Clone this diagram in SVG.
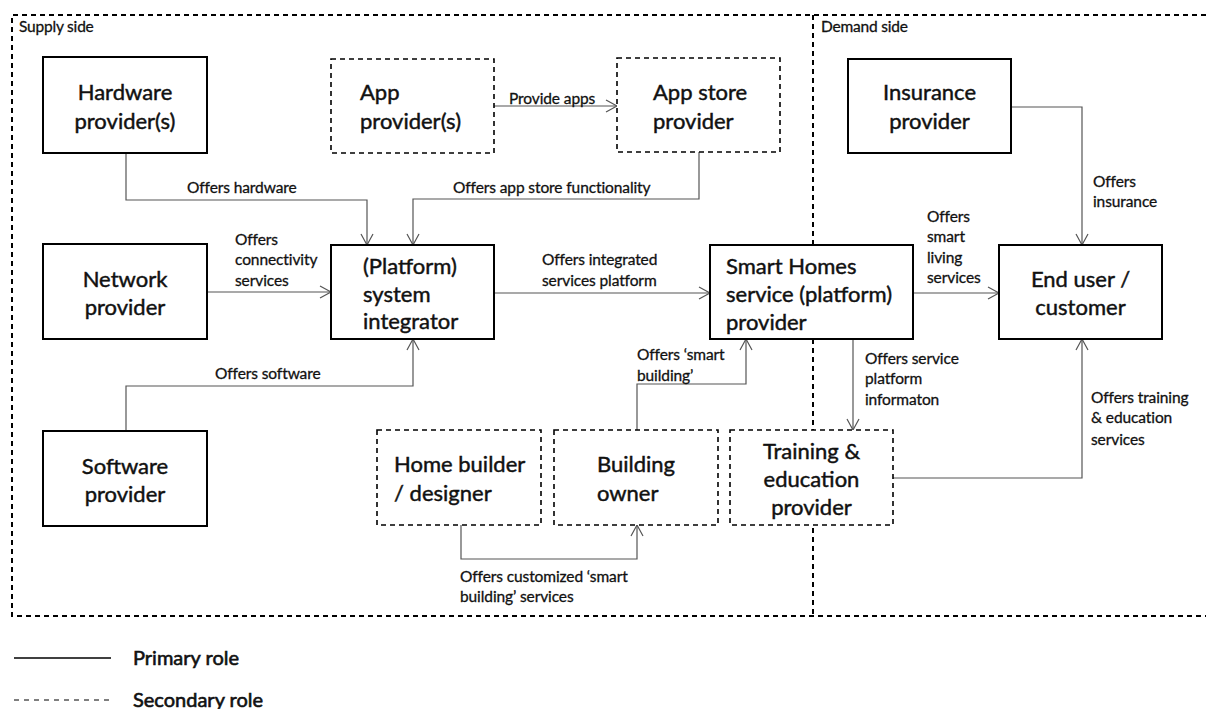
<svg xmlns="http://www.w3.org/2000/svg" width="1206" height="709" viewBox="0 0 1206 709">
  <defs>
    <marker id="arrow" markerUnits="userSpaceOnUse" markerWidth="14" markerHeight="14" refX="11" refY="6" orient="auto" overflow="visible">
      <path d="M0,0 L11,6 L0,12" fill="none" stroke="#555" stroke-width="1.2"/>
    </marker>
    <style>
      .zone { fill: none; stroke: #000; stroke-width: 2; stroke-dasharray: 5 4; }
      .box { fill: #fff; stroke: #000; stroke-width: 2; }
      .box.secondary { stroke-width: 1.6; stroke-dasharray: 5 4; }
      .edge { fill: none; stroke: #555; stroke-width: 1.2; marker-end: url(#arrow); }
      text { font-family: Lato, "Liberation Sans", sans-serif; fill: #111; stroke: #111; }
      .node { font-size: 22px; stroke-width: 0.45; }
      .node.c { text-anchor: middle; }
      .lbl { font-size: 15.5px; stroke-width: 0.3; letter-spacing: -0.1px; }
      .side { font-size: 15.5px; stroke-width: 0.3; letter-spacing: -0.2px; }
      .legend { font-size: 20px; stroke-width: 0.6; }
    </style>
  </defs>

  <!-- supply / demand zones -->
  <g id="zones">
    <path class="zone" d="M1206,15 H12 V616 H1206"/>
    <path class="zone" d="M813,15 V616"/>
    <text class="side" x="19" y="32">Supply side</text>
    <text class="side" x="821" y="32">Demand side</text>
  </g>

  <!-- connectors -->
  <g id="connectors">
    <path class="edge" d="M126,153 V200 H367 V245"/>
    <path class="edge" d="M699,152 V199 H413 V245"/>
    <path class="edge" d="M207,292 H331"/>
    <path class="edge" d="M126,431 V386 H413 V339"/>
    <path class="edge" d="M494,106 H617"/>
    <path class="edge" d="M494,293 H710"/>
    <path class="edge" d="M913,293 H999"/>
    <path class="edge" d="M1011,107 H1082 V245"/>
    <path class="edge" d="M893,478 H1082 V339"/>
    <path class="edge" d="M853,339 V430"/>
    <path class="edge" d="M637,430 V384 H746 V339"/>
    <path class="edge" d="M461,525 V559 H637 V525"/>

    <text class="lbl" x="509" y="104">Provide apps</text>
    <text class="lbl" x="187" y="193">Offers hardware</text>
    <text class="lbl" x="453" y="193">Offers app store functionality</text>
    <text class="lbl" x="235" y="245">Offers</text>
    <text class="lbl" x="235" y="265">connectivity</text>
    <text class="lbl" x="235" y="286">services</text>
    <text class="lbl" x="215" y="379">Offers software</text>
    <text class="lbl" x="542" y="265">Offers integrated</text>
    <text class="lbl" x="542" y="286">services platform</text>
    <text class="lbl" x="637" y="360">Offers ‘smart</text>
    <text class="lbl" x="637" y="381">building’</text>
    <text class="lbl" x="865" y="364">Offers service</text>
    <text class="lbl" x="865" y="384">platform</text>
    <text class="lbl" x="865" y="405">informaton</text>
    <text class="lbl" x="927" y="222">Offers</text>
    <text class="lbl" x="927" y="242">smart</text>
    <text class="lbl" x="927" y="263">living</text>
    <text class="lbl" x="927" y="283">services</text>
    <text class="lbl" x="1093" y="187">Offers</text>
    <text class="lbl" x="1093" y="207">insurance</text>
    <text class="lbl" x="1091" y="403">Offers training</text>
    <text class="lbl" x="1091" y="423">&amp; education</text>
    <text class="lbl" x="1091" y="445">services</text>
    <text class="lbl" x="460" y="582">Offers customized ‘smart</text>
    <text class="lbl" x="460" y="602">building’ services</text>
  </g>

  <!-- nodes -->
  <g id="hardware-provider">
    <rect class="box" x="43" y="57" width="164" height="96"/>
    <text class="node c" x="125" y="100">Hardware</text>
    <text class="node c" x="125" y="129">provider(s)</text>
  </g>
  <g id="app-provider">
    <rect class="box secondary" x="331" y="59" width="163" height="94"/>
    <text class="node" x="360" y="100">App</text>
    <text class="node" x="360" y="129">provider(s)</text>
  </g>
  <g id="app-store-provider">
    <rect class="box secondary" x="617" y="58" width="163" height="94"/>
    <text class="node" x="653" y="100">App store</text>
    <text class="node" x="653" y="129">provider</text>
  </g>
  <g id="insurance-provider">
    <rect class="box" x="848" y="59" width="163" height="94"/>
    <text class="node c" x="929.5" y="100">Insurance</text>
    <text class="node c" x="929.5" y="129">provider</text>
  </g>
  <g id="network-provider">
    <rect class="box" x="43" y="244" width="164" height="95"/>
    <text class="node c" x="125" y="287">Network</text>
    <text class="node c" x="125" y="315">provider</text>
  </g>
  <g id="system-integrator">
    <rect class="box" x="331" y="245" width="163" height="94"/>
    <text class="node" x="363" y="274">(Platform)</text>
    <text class="node" x="363" y="302">system</text>
    <text class="node" x="363" y="329">integrator</text>
  </g>
  <g id="smart-homes-provider">
    <rect class="box" x="710" y="245" width="203" height="94"/>
    <text class="node" x="726" y="274">Smart Homes</text>
    <text class="node" x="726" y="302">service (platform)</text>
    <text class="node" x="726" y="330">provider</text>
  </g>
  <g id="end-user">
    <rect class="box" x="999" y="245" width="163" height="94"/>
    <text class="node c" x="1080.5" y="287">End user /</text>
    <text class="node c" x="1080.5" y="315">customer</text>
  </g>
  <g id="software-provider">
    <rect class="box" x="43" y="431" width="164" height="95"/>
    <text class="node c" x="125" y="474">Software</text>
    <text class="node c" x="125" y="502">provider</text>
  </g>
  <g id="home-builder">
    <rect class="box secondary" x="377" y="430" width="164" height="95"/>
    <text class="node" x="394" y="472">Home builder</text>
    <text class="node" x="394" y="501">/ designer</text>
  </g>
  <g id="building-owner">
    <rect class="box secondary" x="554" y="430" width="164" height="95"/>
    <text class="node" x="597" y="472">Building</text>
    <text class="node" x="597" y="501">owner</text>
  </g>
  <g id="training-provider">
    <rect class="box secondary" x="730" y="430" width="163" height="95"/>
    <text class="node c" x="811.5" y="459">Training &amp;</text>
    <text class="node c" x="811.5" y="487">education</text>
    <text class="node c" x="811.5" y="515">provider</text>
  </g>

  <!-- legend -->
  <g id="legend">
    <line x1="14" y1="658" x2="111" y2="658" stroke="#000" stroke-width="1.3"/>
    <text class="legend" x="133" y="665">Primary role</text>
    <line x1="14" y1="700" x2="111" y2="700" stroke="#000" stroke-width="1.2" stroke-dasharray="5 5"/>
    <text class="legend" x="133" y="707">Secondary role</text>
  </g>
</svg>
